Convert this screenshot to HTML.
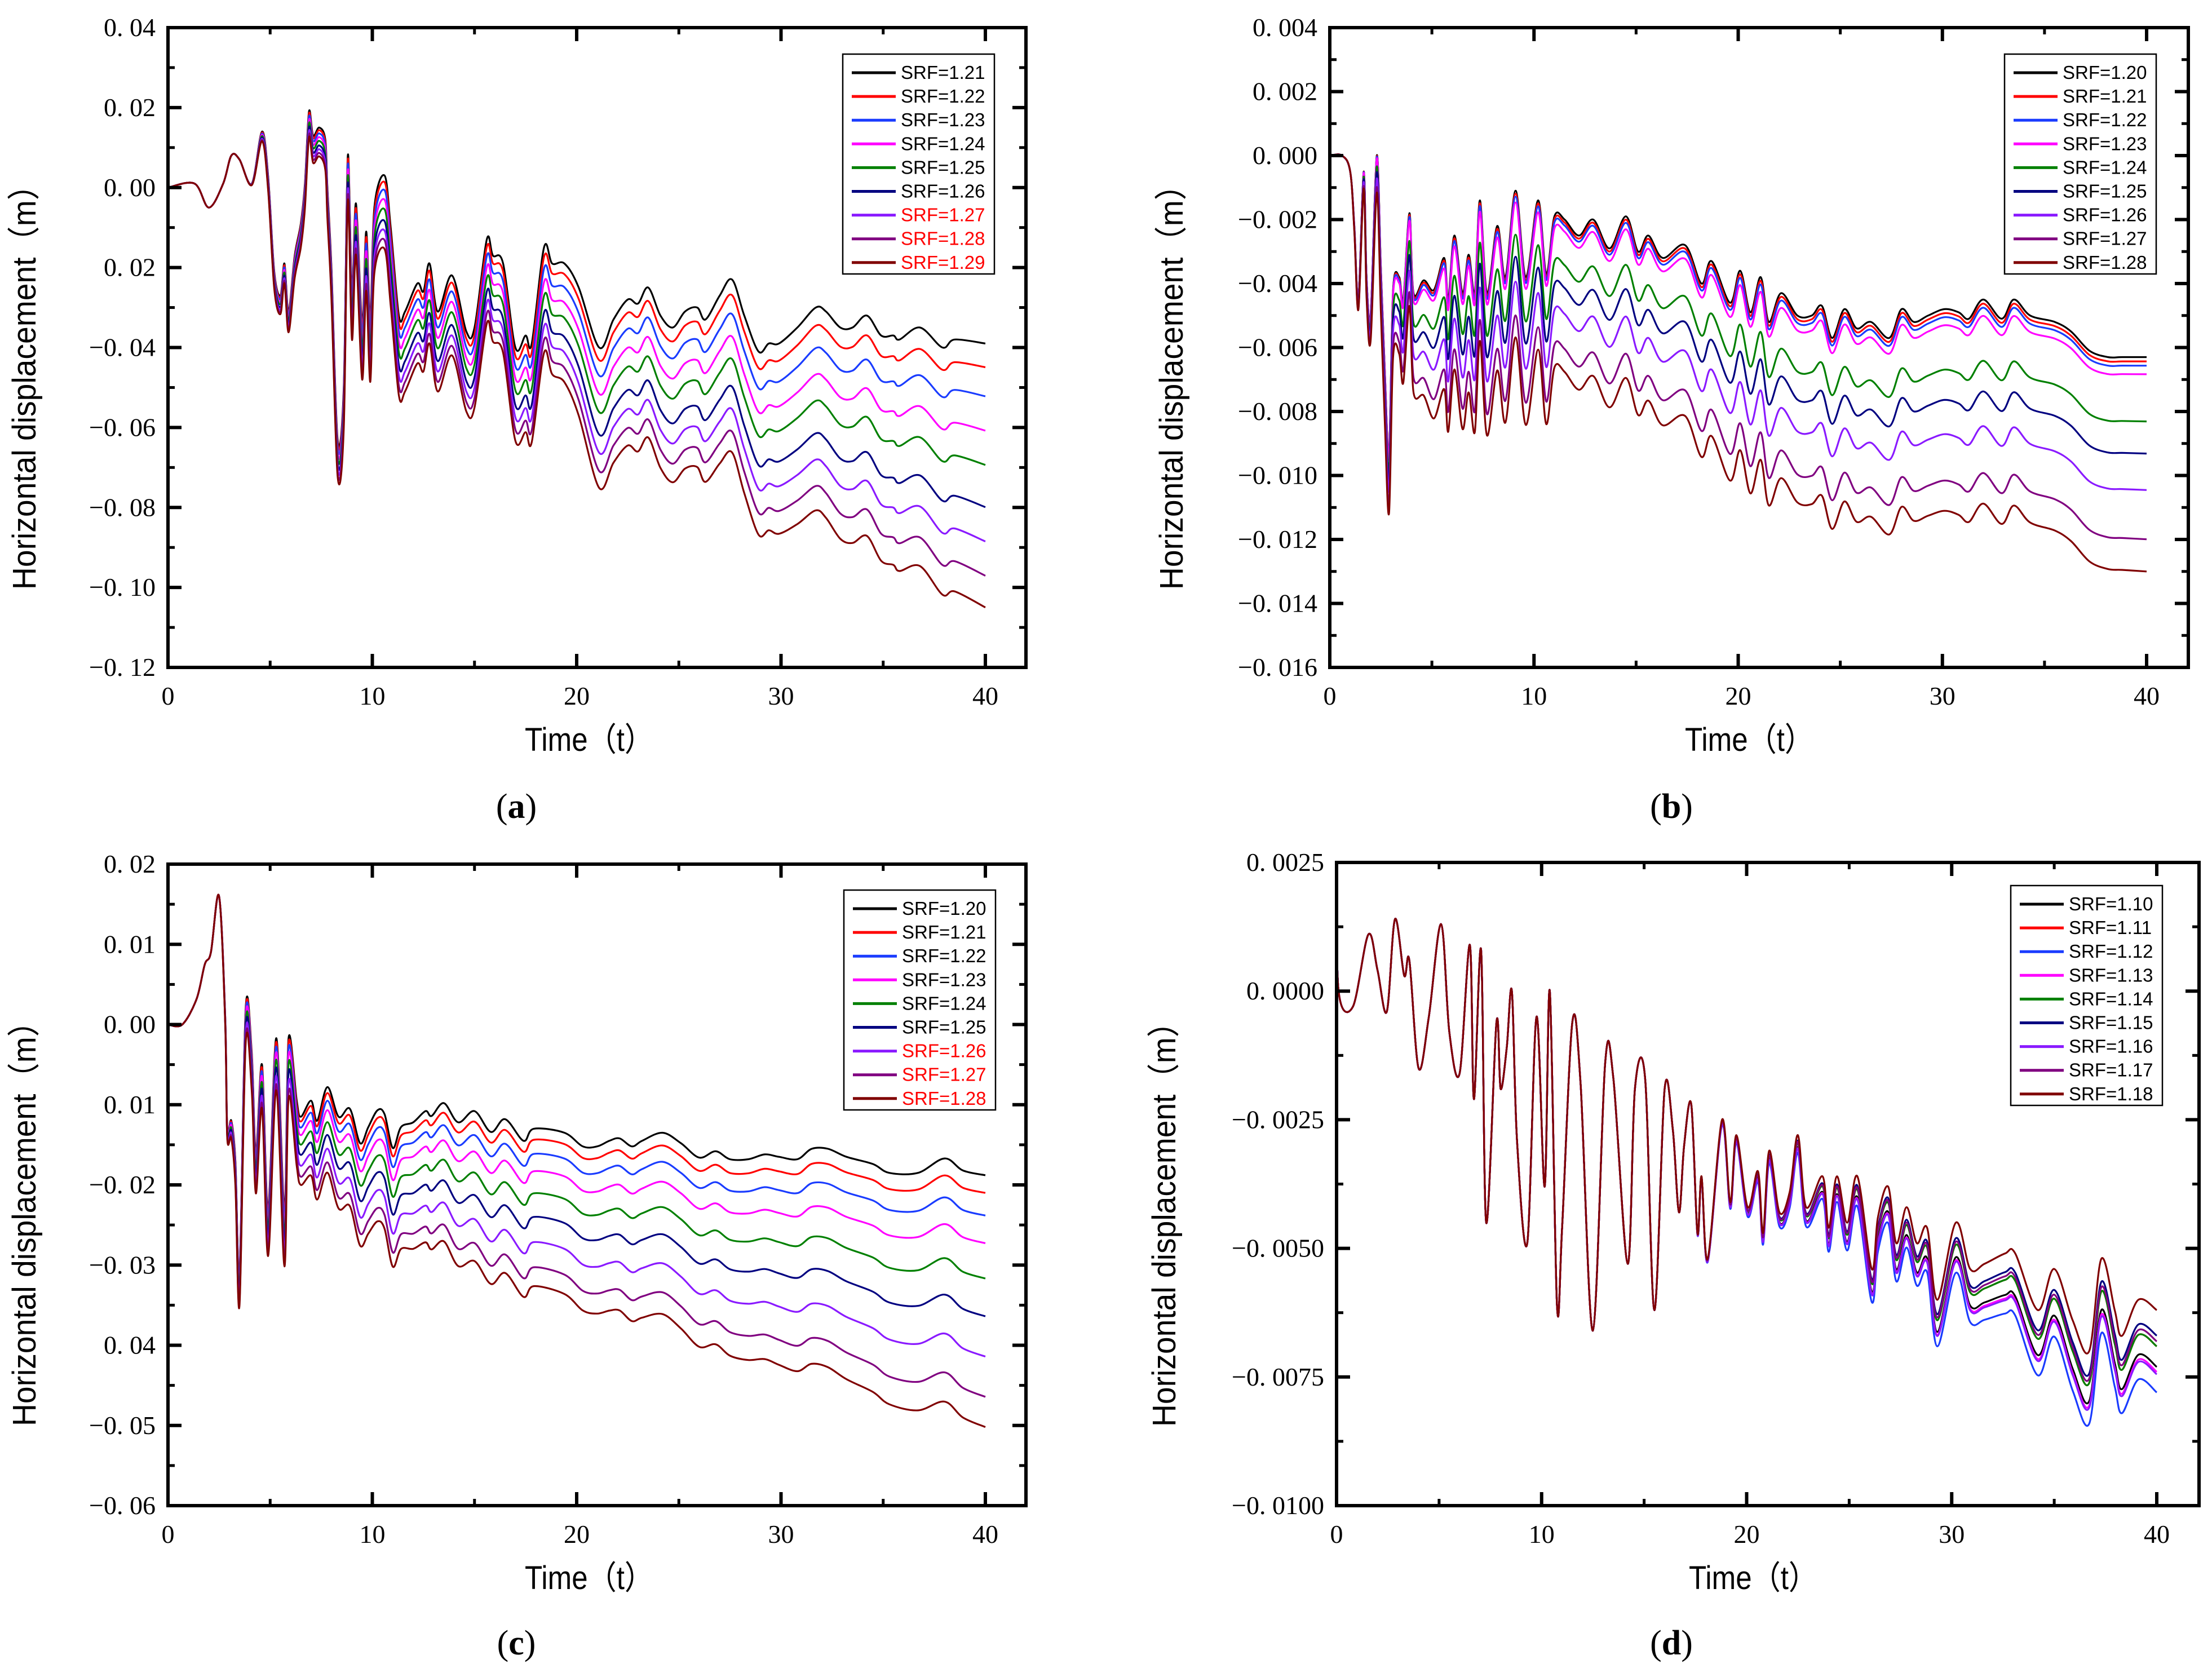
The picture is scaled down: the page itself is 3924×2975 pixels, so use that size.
<!DOCTYPE html>
<html><head><meta charset="utf-8"><style>
html,body{margin:0;padding:0;background:#fff;}
svg{display:block;}
</style></head><body>
<svg id="fig" xmlns="http://www.w3.org/2000/svg" width="3924" height="2975" viewBox="0 0 3924 2975">
<rect width="3924" height="2975" fill="#fff"/>
</svg>
<script>
// ---------- Panel (a) data ----------
const aLabels = ["SRF=1.21","SRF=1.22","SRF=1.23","SRF=1.24","SRF=1.25","SRF=1.26","SRF=1.27","SRF=1.28","SRF=1.29"];
const aTime = [0,1.3,2.0,2.7,3.1,3.5,4.1,4.6,4.9,5.2,5.5,5.7,5.9,6.2,6.5,6.7,6.9,7.1,7.4,7.7,7.8,8.0,8.3,8.6,8.8,9.0,9.2,9.5,9.7,9.9,10.1,10.6,10.9,11.3,11.6,12.2,12.5,12.8,13.2,13.9,14.6,15.0,15.6,15.9,16.4,17.0,17.5,17.8,18.4,18.8,19.4,20.1,21.1,21.8,22.5,23.0,23.5,24.1,24.7,25.3,25.9,26.3,27.0,27.6,28.2,28.9,29.4,29.9,30.8,31.7,32.2,32.9,33.5,34.2,34.9,35.5,35.8,36.8,37.9,38.5,40];
const aTop = [0,0.001,-0.005,0.001,0.008,0.007,0.001,0.014,0.003,-0.021,-0.027,-0.019,-0.031,-0.017,-0.009,0.001,0.019,0.013,0.015,0.012,0.0,-0.02,-0.063,-0.05,0.008,-0.026,-0.004,-0.034,-0.011,-0.033,-0.005,0.003,-0.01,-0.032,-0.031,-0.024,-0.026,-0.019,-0.031,-0.022,-0.036,-0.035,-0.013,-0.017,-0.019,-0.04,-0.037,-0.039,-0.015,-0.019,-0.019,-0.025,-0.04,-0.033,-0.028,-0.029,-0.025,-0.032,-0.035,-0.031,-0.03,-0.033,-0.027,-0.023,-0.032,-0.041,-0.039,-0.039,-0.035,-0.03,-0.031,-0.035,-0.035,-0.032,-0.037,-0.037,-0.038,-0.035,-0.04,-0.038,-0.039];
const aSpreadT = [0,4,5,8,11,15,18,21,26,29,33,37,40];
const aSpreadV = [0,0,-0.004,-0.008,-0.02,-0.02,-0.025,-0.035,-0.04,-0.046,-0.053,-0.06,-0.066];
const aFrac = [0,0.09,0.2,0.33,0.46,0.62,0.75,0.88,1];
const aYTicks = ["0. 04","0. 02","0. 00","0. 02","−0. 04","−0. 06","−0. 08","−0. 10","−0. 12"];

// ---------- Panel (b) data ----------
const bLabels = ["SRF=1.20","SRF=1.21","SRF=1.22","SRF=1.23","SRF=1.24","SRF=1.25","SRF=1.26","SRF=1.27","SRF=1.28"];
const bTime = [0,0.6,1.0,1.2,1.4,1.66,1.8,2.0,2.3,2.5,2.7,2.9,3.1,3.4,3.6,3.9,4.1,4.6,5.1,5.6,5.8,6.1,6.5,6.8,7.1,7.35,7.7,8.2,8.6,9.1,9.6,10.2,10.6,11.0,11.5,12.2,12.9,13.7,14.5,15.1,15.6,16.3,17.4,18.2,18.7,19.6,20.1,20.6,21.1,21.5,22.1,22.9,23.6,24.1,24.6,25.2,25.8,26.5,27.4,28.0,28.6,29.3,30.1,30.8,31.3,32.0,32.9,33.5,34.3,35.5,36.3,37.2,38.1,38.8,40];
const bTop = [0,0,-0.0005,-0.0022,-0.0045,-0.0005,-0.0038,-0.005,0.0,-0.0035,-0.0068,-0.0093,-0.0042,-0.0038,-0.0045,-0.0018,-0.0043,-0.0039,-0.0042,-0.0032,-0.0045,-0.0025,-0.0043,-0.0031,-0.0043,-0.0014,-0.0043,-0.0022,-0.0038,-0.0011,-0.0038,-0.0014,-0.0037,-0.0019,-0.002,-0.0025,-0.002,-0.0029,-0.0019,-0.003,-0.0025,-0.0032,-0.0028,-0.004,-0.0033,-0.0046,-0.0036,-0.0049,-0.0038,-0.0052,-0.0043,-0.005,-0.005,-0.0047,-0.0057,-0.0048,-0.0054,-0.0052,-0.0057,-0.0048,-0.0052,-0.005,-0.0048,-0.0049,-0.0051,-0.0045,-0.0051,-0.0045,-0.005,-0.0052,-0.0055,-0.0061,-0.0063,-0.0063,-0.0063];
const bSpreadT = [0,1,2,3,5,8,12,16,21,25,30,35,40];
const bSpreadV = [0,0,-0.0008,-0.002,-0.004,-0.0045,-0.0048,-0.0052,-0.0057,-0.006,-0.0063,-0.0065,-0.0067];
const bFrac = [0,0.02,0.04,0.08,0.3,0.45,0.62,0.85,1];
const bYTicks = ["0. 004","0. 002","0. 000","−0. 002","−0. 004","−0. 006","−0. 008","−0. 010","−0. 012","−0. 014","−0. 016"];

// ---------- Panel (c) data ----------
const cLabels = ["SRF=1.20","SRF=1.21","SRF=1.22","SRF=1.23","SRF=1.24","SRF=1.25","SRF=1.26","SRF=1.27","SRF=1.28"];
const cTime = [0,0.7,1.4,1.8,2.1,2.5,2.8,2.9,3.1,3.3,3.5,3.8,4.1,4.3,4.6,4.9,5.3,5.7,5.9,6.3,6.5,7.0,7.3,7.8,8.35,8.9,9.4,9.8,10.25,10.6,11.0,11.4,12.0,12.6,12.9,13.5,14.2,15.0,15.8,16.5,17.4,17.9,19.4,20.3,21.0,21.6,22.1,22.7,23.2,24.2,25.1,26.0,26.8,27.5,28.4,29.2,29.9,30.8,31.5,32.3,33.2,34.5,35.3,36.7,38.0,38.9,40];
const cTop = [0,0,0.0032,0.0075,0.009,0.016,0.001,-0.0128,-0.012,-0.017,-0.031,0.002,-0.0035,-0.016,-0.005,-0.023,-0.0017,-0.023,-0.0017,-0.0095,-0.0115,-0.0095,-0.012,-0.0078,-0.0115,-0.0105,-0.0148,-0.0128,-0.0107,-0.0112,-0.0154,-0.0128,-0.0122,-0.0108,-0.0114,-0.0098,-0.0122,-0.0108,-0.0134,-0.0118,-0.0145,-0.013,-0.0135,-0.0152,-0.0152,-0.0145,-0.0142,-0.0152,-0.0145,-0.0135,-0.0148,-0.0166,-0.0158,-0.0168,-0.0168,-0.0162,-0.0165,-0.0168,-0.0155,-0.0155,-0.0165,-0.0174,-0.0185,-0.0185,-0.0167,-0.0182,-0.0188];
const cSpreadT = [0,2.6,3.5,5,8,11,15,20,26,30,35,40];
const cSpreadV = [0,0,-0.004,-0.006,-0.011,-0.0148,-0.0187,-0.0203,-0.0236,-0.026,-0.0287,-0.0314];
const cFrac = [0,0.07,0.16,0.27,0.41,0.56,0.72,0.88,1];
const cYTicks = ["0. 02","0. 01","0. 00","0. 01","−0. 02","−0. 03","0. 04","−0. 05","−0. 06"];

// ---------- Panel (d) data ----------
const dLabels = ["SRF=1.10","SRF=1.11","SRF=1.12","SRF=1.13","SRF=1.14","SRF=1.15","SRF=1.16","SRF=1.17","SRF=1.18"];
const dTime = [0,0.1,0.8,1.55,2.0,2.45,2.85,3.3,3.55,4.0,4.5,5.1,5.5,6.0,6.5,6.7,7.05,7.3,7.8,8.0,8.3,8.55,8.8,9.3,9.75,10.15,10.4,10.75,11.0,11.5,11.9,12.5,13.1,13.5,14.2,14.55,15.05,15.5,16.0,16.4,16.7,16.95,17.3,17.6,17.8,18.1,18.8,19.2,19.5,20.05,20.55,20.8,21.1,21.6,22.1,22.5,22.9,23.7,24.0,24.4,24.9,25.4,26.1,26.4,26.9,27.3,27.8,28.3,28.8,29.3,30.2,30.9,31.6,32.6,33.1,34.2,35.0,35.9,36.7,37.3,37.95,38.3,39.1,40];
const dBase = [0.0025,0,-0.0003,0.0011,0.0004,-0.0004,0.0014,0.0003,0.0006,-0.0015,-0.0005,0.0013,-0.0008,-0.0016,0.0009,-0.0021,0.0008,-0.0045,-0.0006,-0.0019,-0.0011,0.0,-0.0029,-0.0049,-0.0005,-0.0038,0.0,-0.0061,-0.0046,-0.0006,-0.0018,-0.0066,-0.0014,-0.0017,-0.0053,-0.0019,-0.0017,-0.0062,-0.0019,-0.0027,-0.0043,-0.003,-0.0022,-0.0047,-0.0036,-0.0052,-0.0025,-0.0041,-0.0028,-0.0042,-0.0035,-0.0047,-0.0031,-0.0043,-0.0039,-0.0028,-0.0042,-0.0036,-0.0046,-0.0036,-0.0045,-0.0036,-0.0054,-0.0044,-0.0038,-0.0049,-0.0042,-0.0049,-0.0046,-0.006,-0.0045,-0.0054,-0.0053,-0.0051,-0.0051,-0.0062,-0.0054,-0.0064,-0.007,-0.0052,-0.0062,-0.0067,-0.006,-0.0062];
const dSpreadT = [0,17,22,28,33,40];
const dSpreadV = [0,0,-0.0003,-0.0008,-0.0012,-0.0016];
const dFrac = [0.69,0.44,1,0.75,0.44,0.31,0.78,0.38,0];
const dYTicks = ["0. 0025","0. 0000","−0. 0025","−0. 0050","−0. 0075","−0. 0100"];

const xTickLabels = ["0","10","20","30","40"];
const colors = ["#000000","#ff0000","#1a3cff","#ff00ff","#008000","#000080","#8a1aff","#800080","#800000"];

const NS = "http://www.w3.org/2000/svg";
const svg = document.getElementById("fig");
function mk(tag, attrs, parent){
  const e = document.createElementNS(NS, tag);
  for (const k in attrs) e.setAttribute(k, attrs[k]);
  (parent||svg).appendChild(e);
  return e;
}
function interp(ts, vs, t){
  if (t <= ts[0]) return vs[0];
  for (let i=1;i<ts.length;i++){
    if (t <= ts[i]){ const f=(t-ts[i-1])/(ts[i]-ts[i-1]); return vs[i-1]+f*(vs[i]-vs[i-1]); }
  }
  return vs[vs.length-1];
}
function smoothPath(pts){
  let d = "M" + pts[0][0].toFixed(1) + "," + pts[0][1].toFixed(1);
  for (let i=0;i<pts.length-1;i++){
    const p0 = pts[Math.max(0,i-1)], p1 = pts[i], p2 = pts[i+1], p3 = pts[Math.min(pts.length-1,i+2)];
    const k = 1/6;
    const c1x = p1[0] + (p2[0]-p0[0])*k, c1y = p1[1] + (p2[1]-p0[1])*k;
    const c2x = p2[0] - (p3[0]-p1[0])*k, c2y = p2[1] - (p3[1]-p1[1])*k;
    d += "C" + c1x.toFixed(1) + "," + c1y.toFixed(1) + " " + c2x.toFixed(1) + "," + c2y.toFixed(1) + " " + p2[0].toFixed(1) + "," + p2[1].toFixed(1);
  }
  return d;
}

function panel(P){
  const g = mk("g", {});
  
  
  const xs = t => P.L + (t/40)*(P.X40 - P.L);
  const ys = v => P.T + (P.ymax - v)/(P.ymax - P.ymin)*(P.B - P.T);
  const sg = mk("g", {}, g);
  
  
  for (let s=0; s<9; s++){
    const pts = [];
    for (let i=0;i<P.time.length;i++){
      const t = P.time[i];
      const v = P.base[i] + P.frac[s]*interp(P.spT, P.spV, t);
      pts.push([xs(t), ys(v)]);
    }
    const p = mk("path", {d:smoothPath(pts), fill:"none", stroke:colors[s], "stroke-width":3.2, "stroke-linejoin":"round"}, sg);
    
    
  }
  const fr = mk("rect", {x:P.L, y:P.T, width:P.R-P.L, height:P.B-P.T, fill:"none", stroke:"#000", "stroke-width":6}, g);
  
  
  const nY = P.yt.length;
  for (let k=0;k<nY;k++){
    const v = P.ymax - k*(P.ymax-P.ymin)/(nY-1);
    const y = ys(v);
    mk("line",{x1:P.L,x2:P.L+24,y1:y,y2:y,stroke:"#000","stroke-width":6},g);
    mk("line",{x1:P.R,x2:P.R-24,y1:y,y2:y,stroke:"#000","stroke-width":6},g);
    if (k<nY-1){
      const ym = ys(v - (P.ymax-P.ymin)/(nY-1)/2);
      mk("line",{x1:P.L,x2:P.L+12,y1:ym,y2:ym,stroke:"#000","stroke-width":5},g);
      mk("line",{x1:P.R,x2:P.R-12,y1:ym,y2:ym,stroke:"#000","stroke-width":5},g);
    }
    const tx = mk("text",{x:P.L-22,y:y+15,"text-anchor":"end","font-family":"Liberation Serif, serif","font-size":46},g);
    
    
    tx.textContent = P.yt[k];
  }
  for (let k=0;k<xTickLabels.length;k++){
    const t = Number(xTickLabels[k]);
    const x = xs(t);
    mk("line",{x1:x,x2:x,y1:P.B,y2:P.B-24,stroke:"#000","stroke-width":6},g);
    mk("line",{x1:x,x2:x,y1:P.T,y2:P.T+24,stroke:"#000","stroke-width":6},g);
    if (k<xTickLabels.length-1){
      const xm = xs(t+5);
      mk("line",{x1:xm,x2:xm,y1:P.B,y2:P.B-12,stroke:"#000","stroke-width":5},g);
      mk("line",{x1:xm,x2:xm,y1:P.T,y2:P.T+12,stroke:"#000","stroke-width":5},g);
    }
    const tx = mk("text",{x:x,y:P.B+66,"text-anchor":"middle","font-family":"Liberation Serif, serif","font-size":46},g);
    
    
    tx.textContent = xTickLabels[k];
  }
  const xt = mk("text",{x:P.xtX,y:P.B+148,"text-anchor":"middle","font-family":"Liberation Sans, Noto Sans CJK SC, sans-serif","font-size":58,textLength:228,lengthAdjust:"spacingAndGlyphs"},g);
  
  
  xt.textContent = "Time（t）";
  const yt = mk("text",{x:0,y:0,"text-anchor":"middle","font-family":"Liberation Sans, Noto Sans CJK SC, sans-serif","font-size":58,textLength:746,lengthAdjust:"spacingAndGlyphs",transform:"translate("+(P.ytX+18)+","+P.ytY+") rotate(-90)"},g);
  
  
  yt.textContent = "Horizontal displacement（m）";
  const lg = mk("g",{},g);
  
  
  mk("rect",{x:P.lx,y:P.ly,width:269,height:390,fill:"#fff",stroke:"#000","stroke-width":2.5},lg);
  for (let s=0;s<9;s++){
    const y = P.ly + 33 + s*42.1;
    const e = mk("g",{},lg);
    
    
    mk("line",{x1:P.lx+16,x2:P.lx+94,y1:y,y2:y,stroke:colors[s],"stroke-width":5},e);
    const t = mk("text",{x:P.lx+103,y:y+11,"font-family":"Liberation Sans, sans-serif","font-size":33,fill:(P.red.indexOf(s)>=0?"#ff0000":"#000")},e);
    t.textContent = P.labels[s];
  }
  const sl = mk("text",{x:P.subX,y:P.subY+20,"text-anchor":"middle","font-family":"Liberation Serif, serif","font-size":62},g);
  
  
  sl.innerHTML = '(<tspan font-weight="bold">'+P.letter+'</tspan>)';
}

panel({name:"panel-a",letter:"a",time:aTime,base:aTop,spT:aSpreadT,spV:aSpreadV,frac:aFrac,labels:aLabels,yt:aYTicks,
  ymin:-0.12,ymax:0.04,L:298,R:1820,X40:1748,T:49,B:1184,xtX:1045,ytX:45,ytY:673,lx:1495,ly:96,red:[6,7,8],subX:916,subY:1431});
panel({name:"panel-b",letter:"b",time:bTime,base:bTop,spT:bSpreadT,spV:bSpreadV,frac:bFrac,labels:bLabels,yt:bYTicks,
  ymin:-0.016,ymax:0.004,L:2359,R:3882,X40:3808,T:49,B:1184,xtX:3103,ytX:2080,ytY:673,lx:3556,ly:96,red:[],subX:2965,subY:1431});
panel({name:"panel-c",letter:"c",time:cTime,base:cTop,spT:cSpreadT,spV:cSpreadV,frac:cFrac,labels:cLabels,yt:cYTicks,
  ymin:-0.06,ymax:0.02,L:298,R:1820,X40:1748,T:1533,B:2671,xtX:1045,ytX:45,ytY:2157,lx:1497,ly:1579,red:[6,7,8],subX:916,subY:2915});
panel({name:"panel-d",letter:"d",time:dTime,base:dBase,spT:dSpreadT,spV:dSpreadV,frac:dFrac,labels:dLabels,yt:dYTicks,
  ymin:-0.01,ymax:0.0025,L:2371,R:3901,X40:3826,T:1530,B:2671,xtX:3110,ytX:2067,ytY:2158,lx:3567,ly:1571,red:[],subX:2965,subY:2915});
</script>
</body></html>
